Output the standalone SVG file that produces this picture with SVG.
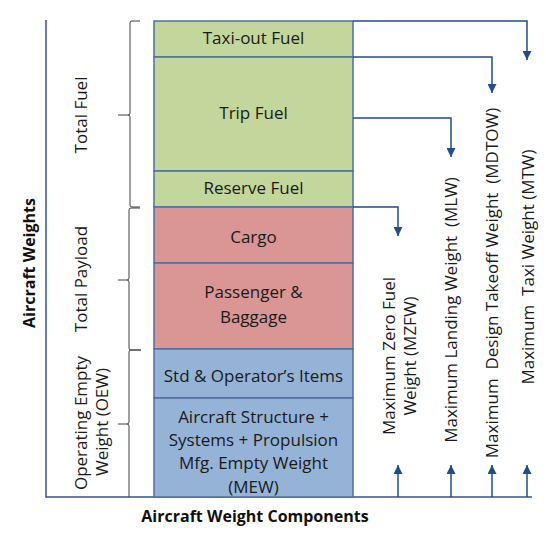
<svg xmlns="http://www.w3.org/2000/svg" width="546" height="541" viewBox="0 0 546 541">
<defs>
<style>
.box{stroke:#4f6fa3;stroke-width:1.5}
.fuel{fill:#c3d69b}
.pay{fill:#d99694}
.oew{fill:#95b3d7}
.t{font-family:"Open Sans","Liberation Sans",sans-serif;font-size:17px;fill:#1a1a1a;text-anchor:middle}
.b{font-family:"Open Sans","Liberation Sans",sans-serif;font-size:16px;font-weight:bold;fill:#111;text-anchor:middle}
.axis{stroke:#2f5597;stroke-width:1.5;fill:none}
.conn{stroke:#1f4e8c;stroke-width:1.5;fill:none}
.brace{stroke:#404040;stroke-width:1;fill:none}
</style>
<marker id="ah" viewBox="0 0 10 10" refX="10" refY="5" markerWidth="9" markerHeight="9" markerUnits="userSpaceOnUse" orient="auto">
<path d="M0,0 L10,5 L0,10 Z" fill="#1f4e8c"/>
</marker>
</defs>
<rect width="546" height="541" fill="#ffffff"/>

<g id="axes">
<path class="axis" d="M46,20 L46,497 L532,497"/>
</g>

<g id="taxi-out-fuel"><rect class="box fuel" x="154" y="21" width="199" height="36"/><text class="t" x="253.5" y="44">Taxi-out Fuel</text></g>
<g id="trip-fuel"><rect class="box fuel" x="154" y="57" width="199" height="114"/><text class="t" x="253.5" y="119">Trip Fuel</text></g>
<g id="reserve-fuel"><rect class="box fuel" x="154" y="171" width="199" height="36"/><text class="t" x="253.5" y="194">Reserve Fuel</text></g>
<g id="cargo"><rect class="box pay" x="154" y="207" width="199" height="56"/><text class="t" x="253.5" y="243">Cargo</text></g>
<g id="passenger-baggage"><rect class="box pay" x="154" y="263" width="199" height="86"/><text class="t" x="253.5" y="298">Passenger &amp;</text><text class="t" x="253.5" y="323">Baggage</text></g>
<g id="std-operator-items"><rect class="box oew" x="154" y="349" width="199" height="49"/><text class="t" x="253.5" y="382">Std &amp; Operator’s Items</text></g>
<g id="mew"><rect class="box oew" x="154" y="398" width="199" height="99"/><text class="t" x="253.5" y="423">Aircraft Structure +</text><text class="t" x="253.5" y="446">Systems + Propulsion</text><text class="t" x="253.5" y="469">Mfg. Empty Weight</text><text class="t" x="253.5" y="493">(MEW)</text></g>

<g id="braces">
<path class="brace" d="M140,21 L132,21 Q130,21 130,23 L130,113 Q130,115 128,115 L118,115 M128,115 Q130,115 130,117 L130,205 Q130,207 132,207 L140,207"/>
<path class="brace" d="M140,208 L131,208 Q129,208 129,210 L129,278 Q129,280 127,280 L118,280 M127,280 Q129,280 129,282 L129,348 Q129,350 131,350 L141,350"/>
<path class="brace" d="M141,350 L131,350 Q129,350 129,352 L129,422 Q129,424 127,424 L118,424 M127,424 Q129,424 129,426 L129,497"/>
</g>

<g id="left-labels">
<text class="b" transform="translate(35,263) rotate(-90)">Aircraft Weights</text>
<text class="t" transform="translate(87,115) rotate(-90)">Total Fuel</text>
<text class="t" transform="translate(87,279) rotate(-90)">Total Payload</text>
<text class="t" transform="translate(87,423) rotate(-90)">Operating Empty</text>
<text class="t" transform="translate(108,422) rotate(-90)">Weight (OEW)</text>
</g>

<g id="right-labels">
<text class="t" transform="translate(395,356) rotate(-90)">Maximum Zero Fuel</text>
<text class="t" transform="translate(416,356) rotate(-90)">Weight (MZFW)</text>
<text class="t" transform="translate(457,310) rotate(-90)" xml:space="preserve">Maximum Landing Weight  (MLW)</text>
<text class="t" transform="translate(498,283) rotate(-90)" xml:space="preserve">Maximum  Design Takeoff Weight  (MDTOW)</text>
<text class="t" transform="translate(534,267) rotate(-90)" xml:space="preserve">Maximum  Taxi Weight (MTW)</text>
</g>

<g id="connectors">
<path class="conn" marker-end="url(#ah)" d="M353,21 L527,21 L527,60"/>
<path class="conn" marker-end="url(#ah)" d="M353,57 L492,57 L492,93"/>
<path class="conn" marker-end="url(#ah)" d="M353,118 L451,118 L451,157"/>
<path class="conn" marker-end="url(#ah)" d="M353,207 L398,207 L398,236"/>
<path class="conn" marker-end="url(#ah)" d="M398,497 L398,465"/>
<path class="conn" marker-end="url(#ah)" d="M451,497 L451,465"/>
<path class="conn" marker-end="url(#ah)" d="M492,497 L492,465"/>
<path class="conn" marker-end="url(#ah)" d="M527,497 L527,465"/>
</g>

<g id="title">
<text class="b" x="255" y="522">Aircraft Weight Components</text>
</g>
</svg>
